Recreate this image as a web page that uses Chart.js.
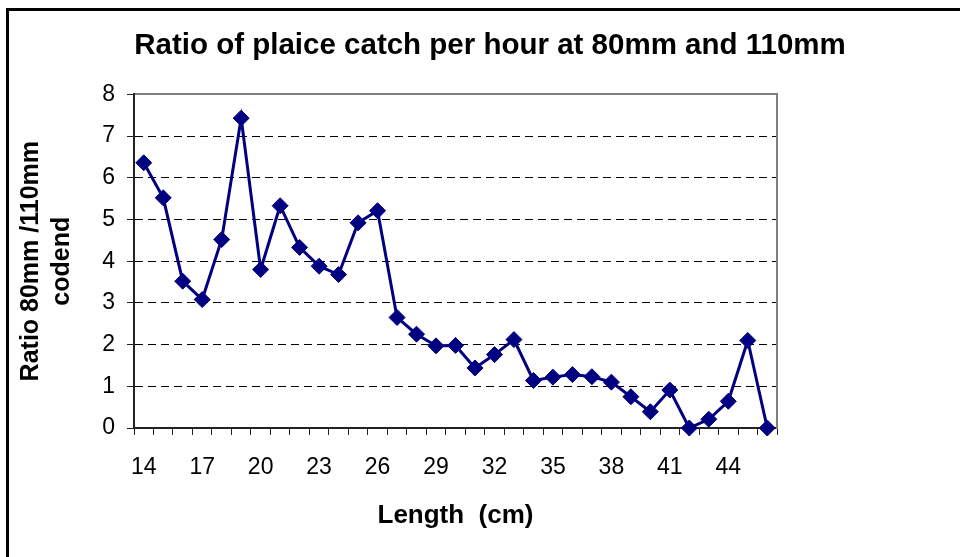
<!DOCTYPE html>
<html>
<head>
<meta charset="utf-8">
<title>Ratio of plaice catch per hour</title>
<script src="https://cdn.jsdelivr.net/npm/chart.js@4/dist/chart.umd.min.js"></script>
<style>
    html, body { margin: 0; padding: 0; background: #fff; overflow: hidden; }
    #wrap { position: relative; width: 960px; height: 557px; }
    #frame {
        position: absolute; left: 6px; top: 8px; width: 2000px; height: 2000px;
        border-top: 3px solid #000; border-left: 3px solid #000; pointer-events: none;
    }
</style>
</head>
<body>
<div id="wrap">
    <canvas id="myChart" width="960" height="557"></canvas>
    <div id="frame"></div>
</div>
<script>
// length classes (cm)
var lengths = [14, 15, 16, 17, 18, 19, 20, 21, 22, 23, 24, 25, 26, 27, 28, 29, 30,
    31, 32, 33, 34, 35, 36, 37, 38, 39, 40, 41, 42, 43, 44, 45, 46];
// ratio 80mm / 110mm codend
var ratios = [6.36, 5.52, 3.52, 3.08, 4.52, 7.43, 3.80, 5.33, 4.33, 3.88, 3.68, 4.92, 5.21,
    2.65, 2.25, 1.97, 1.98, 1.44, 1.76, 2.12, 1.14, 1.22, 1.28, 1.23, 1.10, 0.75, 0.39,
    0.91, 0.00, 0.21, 0.64, 2.10, 0.00];
// labels printed under the x axis
var shownLabels = [14, 17, 20, 23, 26, 29, 32, 35, 38, 41, 44];
var yTicks = [0, 1, 2, 3, 4, 5, 6, 7, 8];

Chart.defaults.font.family = "'Liberation Sans', Arial, sans-serif";
Chart.defaults.color = "#000";

var chartData = {
    labels: lengths.map(String),
    datasets: [
        {
            label: "Ratio",
            data: ratios,
            borderColor: "#000080",
            backgroundColor: "#000080",
            borderWidth: 3,
            tension: 0,
            fill: false,
            pointStyle: "rectRot",
            pointRadius: 8,
            pointBorderWidth: 1,
            pointBackgroundColor: "#000080",
            pointBorderColor: "#000080",
            clip: false,
        },
    ],
};

const config = {
    type: "line",
    data: chartData,
    options: {
        responsive: false,
        animation: false,
        layout: {
            padding: { left: 20, top: 10, right: 0, bottom: 0 },
        },
        plugins: {
            legend: { display: false },
            tooltip: { enabled: false },
            title: {
                display: true,
                text: "Ratio of plaice catch per hour at 80mm and 110mm",
                color: "#000",
                font: { size: 29.5, weight: "bold" },
                padding: { top: 18, bottom: 31 },
            },
        },
        scales: {
            x: {
                type: "category",
                position: "bottom",
                offset: true,
                grid: {
                    offset: true,
                    drawOnChartArea: false,
                    drawTicks: true,
                    tickLength: 7,
                    color: "#222",
                },
                border: { color: "#222", width: 2 },
                ticks: {
                    autoSkip: false,
                    maxRotation: 0,
                    padding: 19,
                    font: { size: 23 },
                    callback: function (value, index) {
                        return shownLabels.includes(lengths[index]) ? String(lengths[index]) : "";
                    },
                },
                title: {
                    display: true,
                    text: "Length  (cm)",
                    font: { size: 26, weight: "bold" },
                    padding: { top: 0, bottom: 26 },
                },
                afterFit: function (scale) {
                    scale.height = 129;
                },
            },
            xTop: {
                type: "category",
                position: "top",
                offset: true,
                grid: { display: false },
                ticks: { display: false },
                border: { color: "#808080", width: 2 },
                afterFit: function (scale) {
                    scale.height = 0;
                },
            },
            y: {
                type: "linear",
                position: "left",
                min: yTicks[0],
                max: yTicks[yTicks.length - 1],
                afterBuildTicks: function (scale) {
                    scale.ticks = yTicks.map(function (v) { return { value: v }; });
                },
                grid: {
                    drawTicks: true,
                    tickLength: 7,
                    lineWidth: 1,
                    color: function (ctx) {
                        return ctx.tick && ctx.tick.value === 8 ? "rgba(0,0,0,0)" : "#000";
                    },
                    tickColor: "#222",
                },
                border: { color: "#222", width: 2, dash: [8, 5] },
                ticks: {
                    padding: 12,
                    font: { size: 23 },
                },
                title: {
                    display: true,
                    text: ["Ratio 80mm /110mm", "codend"],
                    font: { size: 25, weight: "bold", lineHeight: 1.25 },
                    padding: { top: -5, bottom: 0 },
                },
                afterFit: function (scale) {
                    scale.width = 114;
                },
            },
            yRight: {
                type: "linear",
                position: "right",
                min: 0,
                max: 8,
                grid: { display: false },
                ticks: { display: false },
                border: { color: "#808080", width: 2 },
                afterFit: function (scale) {
                    scale.width = 183;
                },
            },
        },
    },
};

var myChart = new Chart(document.getElementById("myChart"), config);
</script>
</body>
</html>
